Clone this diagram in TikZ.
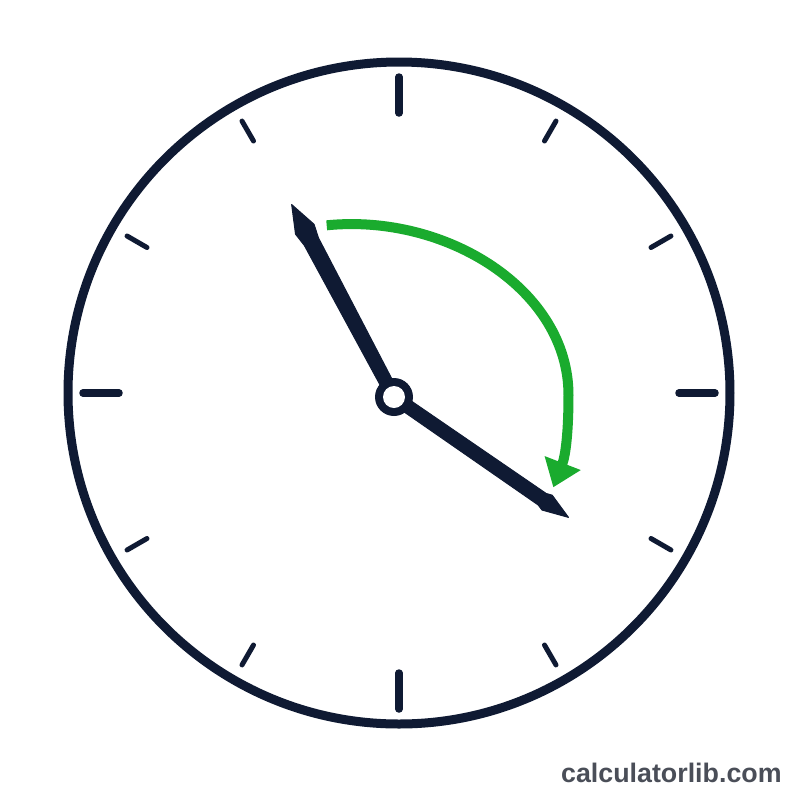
\documentclass[tikz,border=0pt]{standalone}
\usepackage{fontspec}
\setmainfont{Liberation Sans}
\usetikzlibrary{arrows.meta}
\definecolor{navy}{HTML}{0F1A33}
\definecolor{arrowgreen}{HTML}{1AAB2E}
\definecolor{brandgrey}{HTML}{4A4E58}
\tikzset{
	majortick/.style={draw=navy, line width=3.75pt, line cap=round},
	minortick/.style={draw=navy, line width=2.5pt, line cap=round},
	hand/.style={fill=navy, draw=navy, line width=0.5pt, line join=round},
}

\begin{document}
\begin{tikzpicture}[x=0.5pt, y=-0.5pt]
	\useasboundingbox (0,0) rectangle (800,800);
	\fill[white] (0,0) rectangle (800,800);
	\coordinate (c) at (399,393);
	\coordinate (h) at (394,397);

	% dial
	\draw[navy, line width=4.5pt] (c) circle[radius=331];
	\foreach \a in {0,90,180,270}
		\draw[majortick] ([shift={(\a:280)}]c) -- ([shift={(\a:316)}]c);
	\foreach \a in {30,60,120,150,210,240,300,330}
		\draw[minortick] ([shift={(\a:291)}]c) -- ([shift={(\a:314)}]c);

	% green sweep
	\coordinate (s0) at (326.7,225.3);
	\coordinate (s1) at (568.5,395);
	\coordinate (s2) at (553.3,487.3);
	\draw[arrowgreen, line width=5pt, -{Triangle[length=13pt, width=18.5pt]}]
		(s0) .. controls (446.7,213.3) and (568.5,290) .. (s1)
		.. controls (568.5,430) and (565.9,454.7) .. (s2);

	% hands
	\begin{scope}[shift={(h)}, rotate=118]
		\filldraw[hand] (0,6.5) -- (176,8) -- (190,10.5) -- (218,0) -- (190,-10.5) -- (176,-8) -- (0,-6.5) -- cycle;
	\end{scope}
	\begin{scope}[shift={(h)}, rotate=-34.6]
		\filldraw[hand] (0,6.5) -- (180,7) -- (186,9) -- (212,0) -- (186,-9) -- (180,-7) -- (0,-6.5) -- cycle;
	\end{scope}
	\fill[navy] (h) circle[radius=19];
	\fill[white] (h) circle[radius=11];

	\node[brandgrey, font=\bfseries\fontsize{13.4}{16}\selectfont, anchor=base east, inner sep=0pt] (brand) at (782,782) {calculatorlib.com};
\end{tikzpicture}
\end{document}
